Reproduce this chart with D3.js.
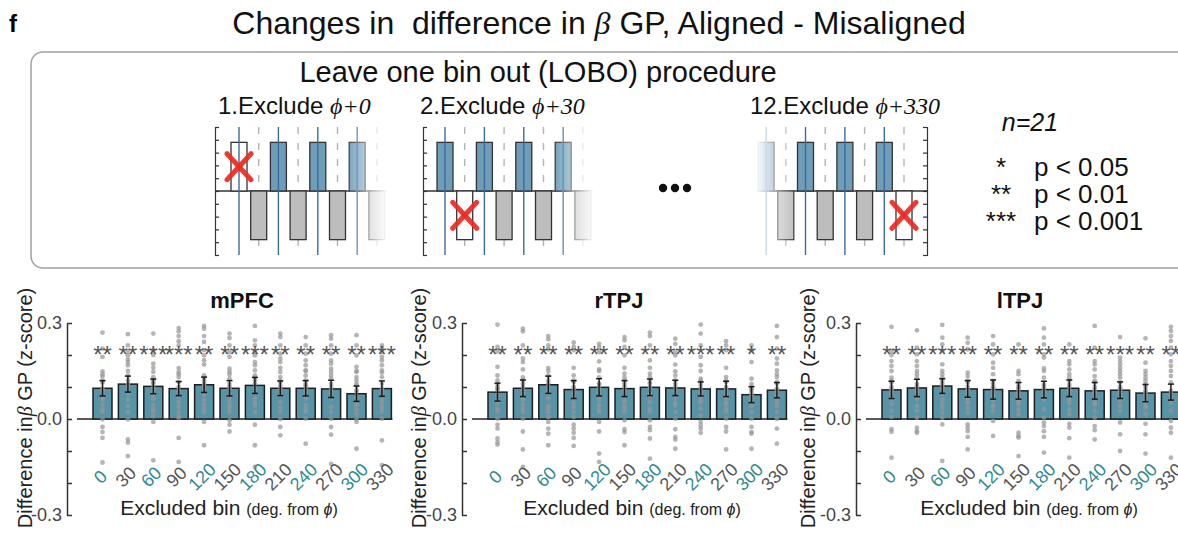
<!DOCTYPE html>
<html>
<head>
<meta charset="utf-8">
<script src="https://cdn.jsdelivr.net/npm/d3@7"></script>
<style>
  body { margin: 0; background: #fff; }
  svg { display: block; font-family: "Liberation Sans", Arial, Helvetica, sans-serif; }
  text { white-space: pre; }
</style>
</head>
<body>
<svg id="chart" width="1178" height="533"></svg>
<script>
// ---- data ----
const bins = [0, 30, 60, 90, 120, 150, 180, 210, 240, 270, 300, 330];
const regions = ["mPFC", "rTPJ", "lTPJ"];
const nSubjects = 21;

const meanMPFC = [0.096, 0.109, 0.102, 0.095, 0.107, 0.096, 0.105, 0.096, 0.096, 0.094, 0.079, 0.095];
const semMPFC  = [0.024, 0.025, 0.023, 0.022, 0.024, 0.024, 0.025, 0.023, 0.024, 0.027, 0.024, 0.024];
const starsMPFC = ["**", "**", "***", "***", "**", "**", "***", "**", "**", "**", "**", "***"];

const meanRTPJ = [0.084, 0.096, 0.107, 0.092, 0.099, 0.095, 0.099, 0.097, 0.094, 0.094, 0.076, 0.090];
const semRTPJ  = [0.028, 0.026, 0.027, 0.028, 0.027, 0.025, 0.026, 0.024, 0.022, 0.024, 0.025, 0.024];
const starsRTPJ = ["**", "**", "**", "**", "**", "**", "**", "**", "***", "**", "*", "**"];

const meanLTPJ = [0.091, 0.097, 0.103, 0.094, 0.092, 0.088, 0.092, 0.096, 0.088, 0.090, 0.081, 0.084];
const semLTPJ  = [0.027, 0.027, 0.023, 0.026, 0.030, 0.026, 0.026, 0.026, 0.026, 0.026, 0.027, 0.025];
const starsLTPJ = ["**", "**", "***", "**", "**", "**", "**", "**", "**", "***", "**", "**"];

// individual subjects, one list per excluded bin
const dotsMPFC = [
  [0.270,0.220,0.194,0.149,0.140,0.133,0.120,0.114,0.095,0.090,0.084,0.066,0.060,0.045,0.030,0.022,-0.001,-0.025,-0.041,-0.059,-0.136],
  [0.265,0.230,0.211,0.199,0.186,0.178,0.168,0.150,0.136,0.121,0.110,0.103,0.095,0.079,0.061,0.040,0.022,-0.001,-0.064,-0.074,-0.116],
  [0.267,0.215,0.200,0.173,0.160,0.147,0.131,0.121,0.115,0.110,0.100,0.090,0.084,0.070,0.064,0.043,0.030,0.024,0.009,-0.009,-0.129],
  [0.284,0.274,0.259,0.243,0.230,0.159,0.147,0.140,0.131,0.116,0.100,0.090,0.084,0.069,0.053,0.038,0.022,0.010,0.003,-0.059,-0.134],
  [0.291,0.282,0.259,0.241,0.215,0.199,0.183,0.170,0.136,0.128,0.120,0.110,0.105,0.095,0.074,0.058,0.045,0.032,0.022,-0.009,-0.082],
  [0.267,0.253,0.230,0.209,0.194,0.157,0.147,0.139,0.126,0.110,0.100,0.095,0.080,0.066,0.053,0.040,0.032,0.022,-0.004,-0.018,-0.039],
  [0.291,0.246,0.230,0.209,0.199,0.178,0.168,0.152,0.136,0.130,0.121,0.110,0.095,0.084,0.065,0.053,0.043,0.022,-0.018,-0.082,-0.150],
  [0.267,0.256,0.230,0.204,0.189,0.178,0.160,0.147,0.131,0.120,0.116,0.105,0.095,0.085,0.074,0.053,0.035,0.022,0.000,-0.025,-0.051],
  [0.256,0.230,0.204,0.183,0.168,0.152,0.150,0.136,0.121,0.110,0.105,0.100,0.090,0.084,0.070,0.064,0.043,0.030,0.022,0.001,-0.077],
  [0.262,0.251,0.230,0.204,0.183,0.173,0.157,0.147,0.136,0.126,0.110,0.100,0.090,0.080,0.064,0.038,0.022,0.001,-0.025,-0.049,-0.140],
  [0.262,0.230,0.199,0.163,0.150,0.147,0.131,0.121,0.110,0.105,0.090,0.084,0.070,0.064,0.050,0.043,0.030,0.017,0.000,-0.009,-0.093],
  [0.230,0.222,0.209,0.194,0.183,0.168,0.152,0.145,0.131,0.110,0.095,0.090,0.079,0.060,0.053,0.040,0.032,0.022,0.001,-0.067,-0.144]
];
const dotsRTPJ = [
  [0.295,0.225,0.211,0.163,0.136,0.121,0.110,0.100,0.095,0.090,0.074,0.058,0.050,0.032,0.022,0.001,-0.018,-0.030,-0.061,-0.072,-0.080],
  [0.282,0.274,0.230,0.189,0.178,0.155,0.130,0.121,0.110,0.100,0.090,0.079,0.066,0.060,0.045,0.032,0.022,0.001,-0.039,-0.095,-0.150],
  [0.259,0.249,0.230,0.218,0.159,0.150,0.136,0.120,0.110,0.100,0.090,0.080,0.064,0.040,0.032,0.022,0.006,-0.009,-0.030,-0.046,-0.082],
  [0.239,0.225,0.215,0.160,0.136,0.120,0.116,0.100,0.093,0.080,0.070,0.064,0.050,0.038,0.022,0.006,-0.018,-0.030,-0.043,-0.059,-0.084],
  [0.235,0.225,0.209,0.180,0.155,0.150,0.130,0.110,0.110,0.100,0.090,0.084,0.069,0.060,0.043,0.030,0.022,-0.009,-0.039,-0.108,-0.134],
  [0.256,0.246,0.225,0.199,0.160,0.142,0.130,0.120,0.110,0.100,0.090,0.084,0.060,0.053,0.040,0.032,0.022,-0.004,-0.032,-0.041,-0.082],
  [0.270,0.259,0.230,0.183,0.160,0.142,0.131,0.116,0.110,0.100,0.095,0.079,0.070,0.053,0.032,0.022,-0.004,-0.025,-0.035,-0.061,-0.124],
  [0.251,0.235,0.209,0.199,0.170,0.149,0.136,0.121,0.110,0.100,0.090,0.084,0.064,0.050,0.043,0.022,0.001,-0.032,-0.056,-0.064,-0.093],
  [0.295,0.267,0.230,0.194,0.168,0.150,0.126,0.120,0.110,0.100,0.090,0.079,0.070,0.060,0.053,0.032,0.011,-0.009,-0.020,-0.030,-0.043],
  [0.243,0.230,0.215,0.160,0.131,0.120,0.116,0.100,0.095,0.090,0.080,0.074,0.064,0.050,0.048,0.032,0.022,0.001,-0.025,-0.039,-0.095],
  [0.230,0.215,0.178,0.126,0.110,0.100,0.093,0.090,0.080,0.074,0.070,0.060,0.053,0.050,0.040,0.022,0.001,-0.025,-0.041,-0.046,-0.093],
  [0.291,0.256,0.220,0.189,0.173,0.152,0.140,0.131,0.116,0.110,0.095,0.090,0.080,0.074,0.060,0.053,0.040,0.022,0.001,-0.030,-0.077]
];
const dotsLTPJ = [
  [0.288,0.212,0.200,0.181,0.166,0.150,0.129,0.120,0.114,0.100,0.093,0.090,0.080,0.067,0.060,0.046,0.025,0.006,-0.032,-0.040,-0.121],
  [0.277,0.223,0.202,0.181,0.166,0.150,0.140,0.129,0.110,0.103,0.095,0.090,0.082,0.070,0.063,0.041,0.025,0.004,-0.027,-0.038,-0.043],
  [0.294,0.254,0.233,0.213,0.171,0.150,0.140,0.129,0.119,0.110,0.100,0.098,0.090,0.077,0.060,0.046,0.035,0.020,0.004,-0.017,-0.131],
  [0.254,0.238,0.218,0.145,0.134,0.120,0.114,0.100,0.090,0.088,0.080,0.065,0.060,0.050,0.035,0.020,-0.017,-0.027,-0.038,-0.056,-0.095],
  [0.259,0.233,0.202,0.176,0.160,0.140,0.119,0.110,0.100,0.098,0.090,0.080,0.077,0.070,0.061,0.060,0.041,0.040,0.025,-0.006,-0.053],
  [0.233,0.150,0.140,0.119,0.110,0.100,0.098,0.090,0.080,0.077,0.070,0.061,0.060,0.050,0.046,0.030,0.015,-0.043,-0.053,-0.058,-0.116],
  [0.283,0.254,0.233,0.202,0.192,0.158,0.150,0.129,0.108,0.100,0.090,0.082,0.070,0.061,0.030,0.004,-0.011,-0.022,-0.038,-0.056,-0.105],
  [0.233,0.181,0.171,0.155,0.140,0.129,0.120,0.108,0.100,0.090,0.088,0.080,0.061,0.060,0.050,0.030,0.015,-0.015,-0.027,-0.060,-0.121],
  [0.291,0.223,0.181,0.171,0.155,0.134,0.120,0.114,0.100,0.090,0.088,0.080,0.067,0.060,0.050,0.046,0.025,0.004,-0.022,-0.035,-0.064],
  [0.256,0.192,0.181,0.171,0.160,0.150,0.140,0.129,0.114,0.100,0.095,0.088,0.080,0.070,0.060,0.056,0.040,0.025,-0.011,-0.048,-0.100],
  [0.252,0.176,0.150,0.140,0.129,0.119,0.108,0.100,0.090,0.082,0.080,0.070,0.060,0.056,0.050,0.040,0.035,0.015,-0.015,-0.048,-0.108],
  [0.288,0.275,0.259,0.244,0.223,0.202,0.181,0.166,0.150,0.134,0.114,0.088,0.080,0.070,0.061,0.050,0.025,-0.006,-0.027,-0.043,-0.121]
];

// schematic of the LOBO procedure (aligned bins up, misaligned bins down)
const loboSteps = [1, 2, 12];
const loboExcluded = [0, 30, 330];
const loboHeights = [3.8, -3.8, 3.8, -3.8, 3.8, -3.8, 3.8, -3.8, 3.8, -3.8, 3.8, -3.8];
const loboTicks = [-5, -4, -3, -2, -1, 0, 1, 2, 3, 4, 5];

const legendStars = ["*", "**", "***"];
const legendText = ["p < 0.05", "p < 0.01", "p < 0.001"];

// ---- layout ----
const svg = d3.select("#chart");
const serif = "'Liberation Serif', 'DejaVu Serif', serif";
const teal = "#2f8a8f";

svg.append("text").attr("x", 9).attr("y", 32)
  .attr("font-size", 24).attr("font-weight", "bold").text("f");

const title = svg.append("text").attr("x", 599).attr("y", 34)
  .attr("text-anchor", "middle").attr("font-size", 32).attr("fill", "#111");
title.append("tspan").text("Changes in  difference in ");
title.append("tspan").attr("font-family", serif).attr("font-style", "italic").text("β");
title.append("tspan").text(" GP, Aligned - Misaligned");

svg.append("rect").attr("x", 31).attr("y", 52).attr("width", 1175).attr("height", 216)
  .attr("rx", 12).attr("fill", "none").attr("stroke", "#a0a0a0").attr("stroke-width", 1.5);

svg.append("text").attr("x", 538).attr("y", 82).attr("text-anchor", "middle")
  .attr("font-size", 29).attr("fill", "#111").text("Leave one bin out (LOBO) procedure");

// schematic panels
const loboLayout = [
  { axisX: 215, side: "left",  x0: 239,   from: 0, to: 7,  fade: [345, 388], labelX: 218 },
  { axisX: 423, side: "left",  x0: 445,   from: 0, to: 7,  fade: [553, 595], labelX: 420 },
  { axisX: 927, side: "right", x0: 687.3, from: 4, to: 11, fade: [797, 755], labelX: 750 }
];
const defs = svg.append("defs");

loboSteps.forEach((step, k) => {
  const L = loboLayout[k];
  const sx = d3.scaleLinear().domain([0, 11]).range([L.x0, L.x0 + 11 * 19.7]);
  const sy = d3.scaleLinear().domain([-5, 5]).range([255, 127]);
  const exIdx = bins.indexOf(loboExcluded[k]);

  const lab = svg.append("text").attr("x", L.labelX).attr("y", 114)
    .attr("font-size", 24).attr("fill", "#111");
  lab.append("tspan").text(step + ".Exclude ");
  lab.append("tspan").attr("font-family", serif).attr("font-style", "italic").text("ϕ+" + loboExcluded[k]);

  const grad = defs.append("linearGradient").attr("id", "fade" + k)
    .attr("gradientUnits", "userSpaceOnUse")
    .attr("x1", L.fade[0]).attr("x2", L.fade[1]).attr("y1", 0).attr("y2", 0);
  grad.append("stop").attr("offset", 0).attr("stop-color", "#fff");
  grad.append("stop").attr("offset", 1).attr("stop-color", "#000");
  defs.append("mask").attr("id", "mask" + k)
    .append("rect").attr("x", L.axisX - 260).attr("y", 115).attr("width", 520).attr("height", 150)
    .attr("fill", `url(#fade${k})`);

  const g = svg.append("g").attr("mask", `url(#mask${k})`);
  const idx = d3.range(L.from, L.to + 1);
  const up = idx.filter(i => loboHeights[i] > 0);
  const down = idx.filter(i => loboHeights[i] < 0);

  g.selectAll(".dash").data(down).join("line")
    .attr("x1", i => sx(i)).attr("x2", i => sx(i)).attr("y1", 127).attr("y2", 255)
    .attr("stroke", "#b4b4b4").attr("stroke-width", 1.4).attr("stroke-dasharray", "7,9");

  const zx = L.side === "left" ? [L.axisX, sx(L.to) + 10] : [sx(L.from) - 10, L.axisX];
  g.append("line").attr("x1", zx[0]).attr("x2", zx[1]).attr("y1", sy(0)).attr("y2", sy(0))
    .attr("stroke", "#333").attr("stroke-width", 1.3);

  g.selectAll(".sbar").data(idx).join("rect")
    .attr("x", i => sx(i) - 8).attr("width", 16)
    .attr("y", i => Math.min(sy(0), sy(loboHeights[i])))
    .attr("height", i => Math.abs(sy(loboHeights[i]) - sy(0)))
    .attr("fill", i => i === exIdx ? "#fff" : (loboHeights[i] > 0 ? "#6d9db9" : "#bdbdbd"))
    .attr("stroke", "#333").attr("stroke-width", 1.3);

  g.selectAll(".bline").data(up).join("line")
    .attr("x1", i => sx(i)).attr("x2", i => sx(i)).attr("y1", 127).attr("y2", 255)
    .attr("stroke", "#3c6b9c").attr("stroke-width", 1.4);

  const cx = sx(exIdx), cy = sy(loboHeights[exIdx] / 2);
  [[-12, -13, 12, 13], [12, -13, -12, 13]].forEach(d => {
    g.append("line").attr("x1", cx + d[0]).attr("y1", cy + d[1]).attr("x2", cx + d[2]).attr("y2", cy + d[3])
      .attr("stroke", "#ec2a22").attr("stroke-width", 5).attr("stroke-linecap", "round").attr("opacity", 0.92);
  });

  const ax = (L.side === "left" ? d3.axisLeft(sy) : d3.axisRight(sy))
    .tickValues(loboTicks).tickSize(-4).tickSizeOuter(-4).tickFormat("");
  const ag = svg.append("g").attr("transform", `translate(${L.axisX},0)`).call(ax);
  ag.selectAll("path, line").attr("stroke", "#333").attr("stroke-width", 1.2);
});

svg.selectAll(".ell").data([0, 1, 2]).join("circle")
  .attr("cx", d => 663 + d * 12).attr("cy", 188).attr("r", 4.2).attr("fill", "#111");

const nt = svg.append("text").attr("x", 1030).attr("y", 131).attr("text-anchor", "middle")
  .attr("font-size", 25).attr("font-style", "italic").attr("fill", "#111");
nt.text("n=" + nSubjects);

legendStars.forEach((s, i) => {
  svg.append("text").attr("x", 1001).attr("y", 176 + i * 27).attr("text-anchor", "middle")
    .attr("font-size", 26).attr("fill", "#111").text(s);
  svg.append("text").attr("x", 1034).attr("y", 176 + i * 27)
    .attr("font-size", 26).attr("fill", "#111").text(legendText[i]);
});

// ---- bar panels ----
const panelMeans = [meanMPFC, meanRTPJ, meanLTPJ];
const panelSems = [semMPFC, semRTPJ, semLTPJ];
const panelStars = [starsMPFC, starsRTPJ, starsLTPJ];
const panelDots = [dotsMPFC, dotsRTPJ, dotsLTPJ];
const panelLayout = [
  { axisX: 67,  titleX: 242,  ylabX: 32,  xlabX: 229 },
  { axisX: 462, titleX: 619,  ylabX: 426, xlabX: 632 },
  { axisX: 856, titleX: 1020, ylabX: 815, xlabX: 1029 }
];

const y = d3.scaleLinear().domain([-0.3, 0.3]).range([515, 323]);

regions.forEach((name, p) => {
  const L = panelLayout[p];
  const means = panelMeans[p], sems = panelSems[p];
  const x = d3.scaleBand().domain(bins).range([L.axisX + 26, L.axisX + 324.4])
    .paddingInner(0.252).paddingOuter(0);
  const bw = x.bandwidth();
  const g = svg.append("g");

  const yAxis = d3.axisLeft(y).tickValues([-0.3, -0.2, -0.1, 0, 0.1, 0.2, 0.3])
    .tickSize(-5).tickSizeOuter(0).tickPadding(5)
    .tickFormat(d => (Math.abs(d) > 0.25 || d === 0) ? d.toFixed(1) : "");
  const ya = g.append("g").attr("transform", `translate(${L.axisX},0)`).call(yAxis);
  ya.selectAll("path, line").attr("stroke", "#333").attr("stroke-width", 1.5);
  ya.selectAll("text").attr("font-size", 18).attr("fill", "#444")
    .attr("font-family", "'Liberation Sans', Arial, sans-serif");

  g.append("line").attr("x1", L.axisX + 10).attr("x2", x(bins[11]) + bw + 1)
    .attr("y1", y(0)).attr("y2", y(0)).attr("stroke", "#222").attr("stroke-width", 1.5);

  g.selectAll(".bar").data(bins).join("rect")
    .attr("x", d => x(d)).attr("width", bw)
    .attr("y", (d, i) => y(means[i])).attr("height", (d, i) => y(0) - y(means[i]))
    .attr("fill", "#5794a7").attr("stroke", "#1e1e1e").attr("stroke-width", 1.5);

  bins.forEach((b, i) => {
    g.selectAll(null).data(panelDots[p][i]).join("circle")
      .attr("cx", x(b) + bw / 2).attr("cy", v => y(v)).attr("r", 2.4)
      .attr("fill", "#959595").attr("opacity", 0.7);
  });

  bins.forEach((b, i) => {
    const cx = x(b) + bw / 2;
    const lo = y(means[i] - sems[i]), hi = y(means[i] + sems[i]);
    g.append("line").attr("x1", cx).attr("x2", cx).attr("y1", lo).attr("y2", hi)
      .attr("stroke", "#1a1a1a").attr("stroke-width", 1.5);
    [lo, hi].forEach(yy => g.append("line").attr("x1", cx - 3).attr("x2", cx + 3)
      .attr("y1", yy).attr("y2", yy).attr("stroke", "#1a1a1a").attr("stroke-width", 1.5));
  });

  g.selectAll(".star").data(bins).join("text")
    .attr("x", d => x(d) + bw / 2).attr("y", 363).attr("text-anchor", "middle")
    .attr("font-size", 24).attr("fill", "#555").text((d, i) => panelStars[p][i]);

  g.append("text").attr("x", L.titleX).attr("y", 308).attr("text-anchor", "middle")
    .attr("font-size", 22).attr("font-weight", "bold").attr("fill", "#111").text(name);

  g.selectAll(".xt").data(bins).join("text")
    .attr("transform", d => `translate(${x(d) + bw / 2 - 2},477) rotate(-45)`)
    .attr("text-anchor", "middle").attr("dominant-baseline", "central")
    .attr("font-size", 18).attr("fill", (d, i) => i % 2 === 0 ? teal : "#555")
    .text(d => d);

  const xl = g.append("text").attr("x", L.xlabX).attr("y", 515).attr("text-anchor", "middle")
    .attr("font-size", 21).attr("fill", "#222");
  xl.append("tspan").text("Excluded bin ");
  xl.append("tspan").attr("font-size", 16).text("(deg. from ");
  xl.append("tspan").attr("font-size", 16).attr("font-style", "italic").text("ϕ");
  xl.append("tspan").attr("font-size", 16).text(")");

  const yl = g.append("text").attr("transform", `translate(${L.ylabX},408) rotate(-90)`)
    .attr("text-anchor", "middle").attr("font-size", 20).attr("fill", "#222");
  yl.append("tspan").text("Difference in");
  yl.append("tspan").attr("font-family", serif).attr("font-style", "italic").text("β");
  yl.append("tspan").text(" GP (z-score)");
});
</script>
</body>
</html>
